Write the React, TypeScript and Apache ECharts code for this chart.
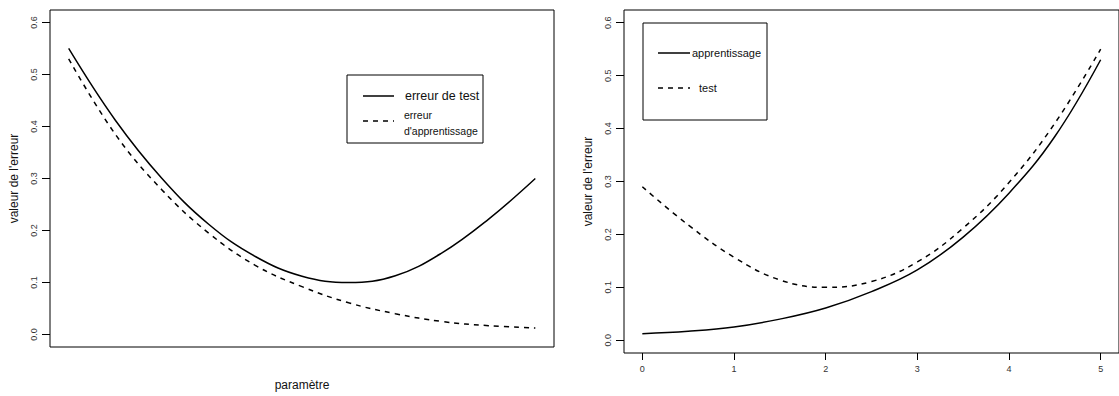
import React, { useEffect, useRef } from "react";
import * as echarts from "echarts";

const xValues = [0, 0.5, 1, 1.5, 2, 2.5, 3, 3.5, 4, 4.5, 5];
const leftTestError = [0.55, 0.412, 0.3, 0.212, 0.15, 0.112, 0.1, 0.113, 0.157, 0.222, 0.3];
const leftTrainError = [0.53, 0.385, 0.278, 0.195, 0.133, 0.092, 0.061, 0.04, 0.025, 0.017, 0.0125];
const rightTrainError = [0.0125, 0.017, 0.025, 0.04, 0.061, 0.092, 0.133, 0.195, 0.278, 0.385, 0.53];
const rightTestError = [0.29, 0.218, 0.157, 0.114, 0.1, 0.111, 0.148, 0.212, 0.298, 0.41, 0.55];
const yTicks = [0, 0.1, 0.2, 0.3, 0.4, 0.5, 0.6];
const xTicks = [0, 1, 2, 3, 4, 5];

const FONT = "'Liberation Sans', Arial, Helvetica, sans-serif";
const pairs = (ys: number[]) => xValues.map((x, i) => [x, ys[i]]);

export default function App() {
  const ref = useRef<HTMLDivElement>(null);
  useEffect(() => {
    if (!ref.current) return;
    const chart = echarts.init(ref.current, undefined, { renderer: "svg" });
    const yAxisCommon = (gridIndex: number) => ({
      type: "value",
      gridIndex,
      min: -0.024,
      max: 0.624,
      name: "valeur de l'erreur",
      nameLocation: "middle",
      nameGap: 30,
      nameRotate: 90,
      nameTextStyle: { fontFamily: FONT, fontSize: 12, color: "#111" },
      axisLine: { show: false, onZero: false },
      splitLine: { show: false },
      axisTick: { show: true, length: 8, customValues: yTicks, lineStyle: { color: "#000" } },
      axisLabel: {
        show: true,
        rotate: 90,
        margin: 12,
        fontSize: 9,
        fontFamily: FONT,
        color: "#333",
        customValues: yTicks,
        formatter: (v: number) => v.toFixed(1),
      },
    });
    const line = (name: string, xi: number, ys: number[], dashed: boolean) => ({
      type: "line",
      name,
      xAxisIndex: xi,
      yAxisIndex: xi,
      data: pairs(ys),
      smooth: 0.4,
      showSymbol: false,
      symbol: "none",
      lineStyle: { color: "#000", width: 1.5, type: dashed ? [5, 5] : "solid" },
    });
    chart.setOption({
      animation: false,
      backgroundColor: "#fff",
      grid: [
        { left: 50, top: 10, width: 504, height: 343, show: true, borderColor: "#000", borderWidth: 1, backgroundColor: "transparent" },
        { left: 624, top: 10, width: 504, height: 343, show: true, borderColor: "#000", borderWidth: 1, backgroundColor: "transparent" },
      ],
      xAxis: [
        {
          type: "value",
          gridIndex: 0,
          min: -0.2,
          max: 5.2,
          name: "paramètre",
          nameLocation: "middle",
          nameGap: 32,
          nameTextStyle: { fontFamily: FONT, fontSize: 12, color: "#111" },
          axisLine: { show: false, onZero: false },
          axisTick: { show: false },
          axisLabel: { show: false },
          splitLine: { show: false },
        },
        {
          type: "value",
          gridIndex: 1,
          min: -0.2,
          max: 5.2,
          axisLine: { show: false, onZero: false },
          splitLine: { show: false },
          axisTick: { show: true, length: 7, customValues: xTicks, lineStyle: { color: "#000" } },
          axisLabel: {
            show: true,
            margin: 11,
            fontSize: 9,
            fontFamily: FONT,
            color: "#333",
            customValues: xTicks,
            formatter: (v: number) => String(v),
          },
        },
      ],
      yAxis: [yAxisCommon(0), yAxisCommon(1)],
      series: [
        line("erreur de test", 0, leftTestError, false),
        line("erreur d'apprentissage", 0, leftTrainError, true),
        line("apprentissage", 1, rightTrainError, false),
        line("test", 1, rightTestError, true),
      ],
      graphic: [
        { type: "rect", shape: { x: 347, y: 75, width: 136, height: 68 }, style: { fill: "#fff", stroke: "#000", lineWidth: 1 } },
        { type: "line", shape: { x1: 363, y1: 96, x2: 394, y2: 96 }, style: { stroke: "#000", lineWidth: 1.5 } },
        { type: "text", x: 405, y: 96, style: { text: "erreur de test", fontFamily: FONT, fontSize: 12.5, fill: "#111", verticalAlign: "middle" } },
        { type: "line", shape: { x1: 363, y1: 121, x2: 394, y2: 121 }, style: { stroke: "#000", lineWidth: 1.5, lineDash: [5, 5] } },
        { type: "text", x: 404, y: 115, style: { text: "erreur", fontFamily: FONT, fontSize: 10.5, fill: "#111", verticalAlign: "middle" } },
        { type: "text", x: 404, y: 131, style: { text: "d'apprentissage", fontFamily: FONT, fontSize: 10.5, fill: "#111", verticalAlign: "middle" } },

        { type: "rect", shape: { x: 643, y: 23, width: 124, height: 97 }, style: { fill: "#fff", stroke: "#000", lineWidth: 1 } },
        { type: "line", shape: { x1: 658, y1: 53, x2: 690, y2: 53 }, style: { stroke: "#000", lineWidth: 1.5 } },
        { type: "text", x: 692, y: 53, style: { text: "apprentissage", fontFamily: FONT, fontSize: 11, fill: "#111", verticalAlign: "middle" } },
        { type: "line", shape: { x1: 658, y1: 88, x2: 690, y2: 88 }, style: { stroke: "#000", lineWidth: 1.5, lineDash: [5, 5] } },
        { type: "text", x: 699, y: 88, style: { text: "test", fontFamily: FONT, fontSize: 11, fill: "#111", verticalAlign: "middle" } },
      ],
    });
    return () => chart.dispose();
  }, []);
  return (
    <div
      ref={ref}
      style={{ position: "absolute", left: 0, top: 0, width: 1119, height: 396, background: "#fff" }}
    />
  );
}
